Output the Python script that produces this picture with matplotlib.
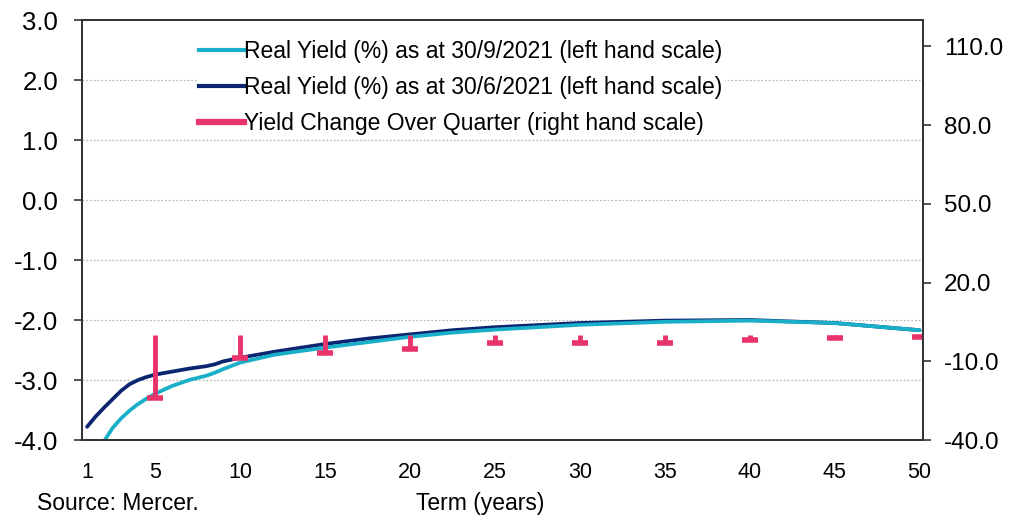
import numpy as np
import matplotlib
matplotlib.use("Agg")
import matplotlib.pyplot as plt
from matplotlib.lines import Line2D
from matplotlib.ticker import FormatStrFormatter

plt.rcParams['font.family'] = ['Liberation Sans', 'DejaVu Sans']
plt.rcParams['axes.unicode_minus'] = False

# real yield curves (%), left hand scale
terms = [1, 1.5, 2, 2.5, 3, 3.5, 4, 4.5, 5, 6, 7, 8, 8.5, 9, 10, 12, 15,
         17.5, 20, 22.5, 25, 30, 35, 40, 45, 50]
yield_sep = [-4.70, -4.35, -4.02, -3.80, -3.64, -3.51, -3.40, -3.31, -3.23,
             -3.10, -3.00, -2.93, -2.88, -2.82, -2.71, -2.58, -2.46, -2.37,
             -2.28, -2.21, -2.16, -2.08, -2.03, -2.01, -2.05, -2.17]
yield_jun = [-3.78, -3.61, -3.46, -3.32, -3.18, -3.07, -3.00, -2.95, -2.91,
             -2.86, -2.81, -2.77, -2.74, -2.69, -2.63, -2.53, -2.40, -2.31,
             -2.24, -2.17, -2.12, -2.05, -2.01, -2.00, -2.05, -2.17]

# change over the quarter (bp), right hand scale
change_terms = [5, 10, 15, 20, 25, 30, 35, 40, 45, 50]
change_bp = [-24.0, -8.8, -7.0, -5.5, -3.2, -3.2, -2.9, -1.8, -1.2, -0.9]

cyan = '#19afc9'
navy = '#0b2570'
pink = '#e8336b'

fig = plt.figure(figsize=(10.17, 5.17), dpi=100)
ax = fig.add_axes([0.0806, 0.1489, 0.8270, 0.8124])
ax2 = ax.twinx()

ax.plot(terms, yield_jun, color=navy, lw=2.7, solid_capstyle='round',
        solid_joinstyle='round')
ax.plot(terms, yield_sep, color=cyan, lw=2.7, solid_capstyle='round',
        solid_joinstyle='round')

ax.set_xlim(0.7, 50.2)
ax.set_ylim(-4, 3)
ax.set_yticks(np.arange(-4, 3.1, 1))
ax.yaxis.set_major_formatter(FormatStrFormatter('%.1f'))
ax.set_xticks([1, 5, 10, 15, 20, 25, 30, 35, 40, 45, 50])
ax.grid(axis='y', color='#bbbbbb', ls=(0, (1.5, 1.5)), lw=0.9)
ax.tick_params(axis='y', labelsize=18.5, length=6, width=1.2, color='#333333', pad=11)
ax.tick_params(axis='x', labelsize=15.5, length=0, pad=16)

ax2.vlines(change_terms, 0, change_bp, color=pink, lw=3.5)
ax2.plot(change_terms, change_bp, ls='none', marker='_', ms=11, mew=4, color=pink)
ax2.set_ylim(-40, 120)
ax2.set_yticks(np.arange(-40, 111, 30))
ax2.yaxis.set_major_formatter(FormatStrFormatter('%.1f'))
ax2.tick_params(axis='y', labelsize=17.5, length=6, width=1.2, color='#333333', pad=9)

for a in (ax, ax2):
    for s in a.spines.values():
        s.set_color('#333333')
        s.set_linewidth(1.3)

handles = [Line2D([], [], color=cyan, lw=3),
           Line2D([], [], color=navy, lw=3),
           Line2D([], [], color=pink, lw=4.5)]
labels = ['Real Yield (%) as at 30/9/2021 (left hand scale)',
          'Real Yield (%) as at 30/6/2021 (left hand scale)',
          'Yield Change Over Quarter (right hand scale)']
leg = ax2.legend(handles, labels, loc='upper left', bbox_to_anchor=(0.137, 0.958),
                 frameon=True, fontsize=16.5, handlelength=1.95, handletextpad=0.0,
                 labelspacing=0.56, borderaxespad=0, borderpad=0.1)
leg.get_frame().set_edgecolor('none')
leg.get_frame().set_facecolor('white')
leg.get_frame().set_alpha(1)

fig.text(0.472, 0.027, 'Term (years)', ha='center', va='center', fontsize=16.5)
fig.text(0.036, 0.027, 'Source: Mercer.', ha='left', va='center', fontsize=16.5)

fig.savefig('out.png', dpi=100)
